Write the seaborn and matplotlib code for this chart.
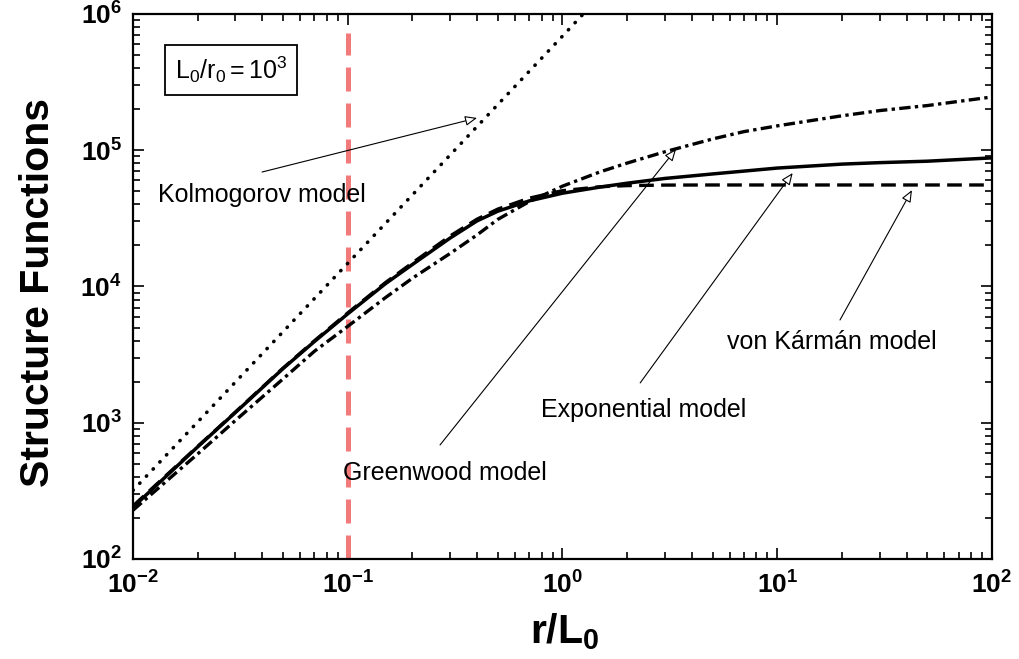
import numpy as np
import pandas as pd
import matplotlib
matplotlib.use("Agg")
import matplotlib.pyplot as plt
from matplotlib.ticker import LogLocator, NullFormatter
import seaborn as sns

# ---------------- data ----------------
r_models = [0.01, 0.02, 0.03, 0.05, 0.07, 0.1, 0.15, 0.2, 0.3, 0.4, 0.5, 0.7,
            1.0, 1.5, 2, 3, 5, 7, 10, 20, 30, 50, 100]
exponential = [240, 665, 1190, 2500, 3950, 6300, 10500, 14500, 22700, 30300, 35700, 42500,
               48400, 53700, 57300, 62100, 67000, 70300, 74000, 79100, 81100, 83100, 87900]
von_karman = [245, 670, 1200, 2520, 4000, 6400, 10700, 14900, 23500, 31200, 37000, 44500,
              50500, 54000, 55000, 55500, 55600, 55600, 55600, 55600, 55600, 55600, 55600]
greenwood = [228, 590, 1040, 2100, 3350, 5100, 8300, 11500, 17500, 23900, 31100, 42000,
             54500, 69500, 80500, 97500, 121000, 137000, 151000, 179000, 195500, 212800, 246000]
r_kolmogorov = [0.01, 0.1, 1.0, 1.3]
kolmogorov = [319, 14800, 688000, 1070000]

r_marker = 0.1

x_ticks = [1e-2, 1e-1, 1e0, 1e1, 1e2]
x_tick_labels = [r"$\mathbf{10^{-2}}$", r"$\mathbf{10^{-1}}$", r"$\mathbf{10^{0}}$",
                 r"$\mathbf{10^{1}}$", r"$\mathbf{10^{2}}$"]
y_ticks = [1e2, 1e3, 1e4, 1e5, 1e6]
y_tick_labels = [r"$\mathbf{10^{2}}$", r"$\mathbf{10^{3}}$", r"$\mathbf{10^{4}}$",
                 r"$\mathbf{10^{5}}$", r"$\mathbf{10^{6}}$"]

labels = ["Kolmogorov model", "Greenwood model", "Exponential model", "von Kármán model"]
label_pos = [(0.029, 0.668), (0.2445, 0.158), (0.475, 0.273), (0.691, 0.398)]
arrow_tails = [(0.0399, 69200), (0.269, 687), (2.30, 1960), (19.6, 5680)]
arrow_tips = [(0.400, 172600), (3.38, 102000), (11.8, 68100), (42.4, 51000)]

# ---------------- style ----------------
sns.set_style("ticks")
plt.rcParams["font.family"] = ["Liberation Sans", "DejaVu Sans"]
plt.rcParams["mathtext.fontset"] = "custom"
plt.rcParams["mathtext.rm"] = "Liberation Sans"
plt.rcParams["mathtext.it"] = "Liberation Sans:italic"
plt.rcParams["mathtext.bf"] = "Liberation Sans:bold"
for key in ("text.color", "axes.labelcolor", "xtick.color", "ytick.color", "axes.edgecolor"):
    plt.rcParams[key] = "black"

fig = plt.figure(figsize=(10.19, 6.59), dpi=100)
ax = fig.add_axes([0.13052, 0.15175, 0.84298, 0.82701])

df_exp = pd.DataFrame({"r": r_models, "D": exponential})
df_vk = pd.DataFrame({"r": r_models, "D": von_karman})
df_gw = pd.DataFrame({"r": r_models, "D": greenwood})
df_k = pd.DataFrame({"r": r_kolmogorov, "D": kolmogorov})

ax.axvline(r_marker, ymin=0, ymax=0.965, color="#f27a7a", lw=3.6,
           linestyle=(0, (4.8, 2.4)), zorder=1)

sns.lineplot(data=df_k, x="r", y="D", ax=ax, color="black", lw=2.6,
             linestyle=(0, (0.1, 2.6)), dash_capstyle="round", zorder=3)
sns.lineplot(data=df_gw, x="r", y="D", ax=ax, color="black", lw=2.4,
             linestyle=(0, (3.4, 1.3, 1.0, 1.3)), zorder=3)
sns.lineplot(data=df_vk, x="r", y="D", ax=ax, color="black", lw=2.4,
             linestyle=(0, (4.4, 2.2)), zorder=3)
sns.lineplot(data=df_exp, x="r", y="D", ax=ax, color="black", lw=2.5,
             linestyle="-", zorder=4)

ax.set_xscale("log")
ax.set_yscale("log")
ax.set_xlim(1e-2, 1e2)
ax.set_ylim(1e2, 1e6)

ax.set_xticks(x_ticks)
ax.set_xticklabels(x_tick_labels)
ax.set_yticks(y_ticks)
ax.set_yticklabels(y_tick_labels)
for axis in (ax.xaxis, ax.yaxis):
    axis.set_minor_locator(LogLocator(base=10, subs=np.arange(2, 10), numticks=50))
    axis.set_minor_formatter(NullFormatter())

ax.tick_params(which="both", direction="in", top=True, right=True, width=1.2, color="black")
ax.tick_params(which="major", length=8)
ax.tick_params(which="minor", length=5)
ax.tick_params(axis="y", which="major", pad=8, labelsize=19)
ax.tick_params(axis="x", which="major", pad=9, labelsize=19)
for s in ax.spines.values():
    s.set_linewidth(1.6)
    s.set_color("black")
ax.set_xlabel("")
ax.set_ylabel("")

fig.text(38 / 1019, 1 - 293 / 659, "Structure Functions", rotation=90,
         ha="center", va="center", fontsize=29.5, fontweight="bold")
fig.text(565 / 1019, 1 - 632 / 659, r"$\mathbf{r/L_0}$", ha="center", va="center",
         fontsize=29.5)

ax.text(0.114, 0.897, r"$\mathrm{L_0/r_0{=}10^3}$", transform=ax.transAxes,
        ha="center", va="center", fontsize=18,
        bbox=dict(boxstyle="square,pad=0.4", fc="white", ec="black", lw=1.3))

for lab, pos in zip(labels, label_pos):
    ax.text(pos[0], pos[1], lab, transform=ax.transAxes, ha="left", va="center",
            fontsize=18)
for tail, tip in zip(arrow_tails, arrow_tips):
    ax.annotate("", xy=tip, xytext=tail, xycoords="data", textcoords="data",
                arrowprops=dict(arrowstyle="-|>,head_length=0.6,head_width=0.25",
                                fc="white", ec="black", lw=0.8, mutation_scale=12,
                                shrinkA=0, shrinkB=0))

fig.savefig("out.png", dpi=100)
